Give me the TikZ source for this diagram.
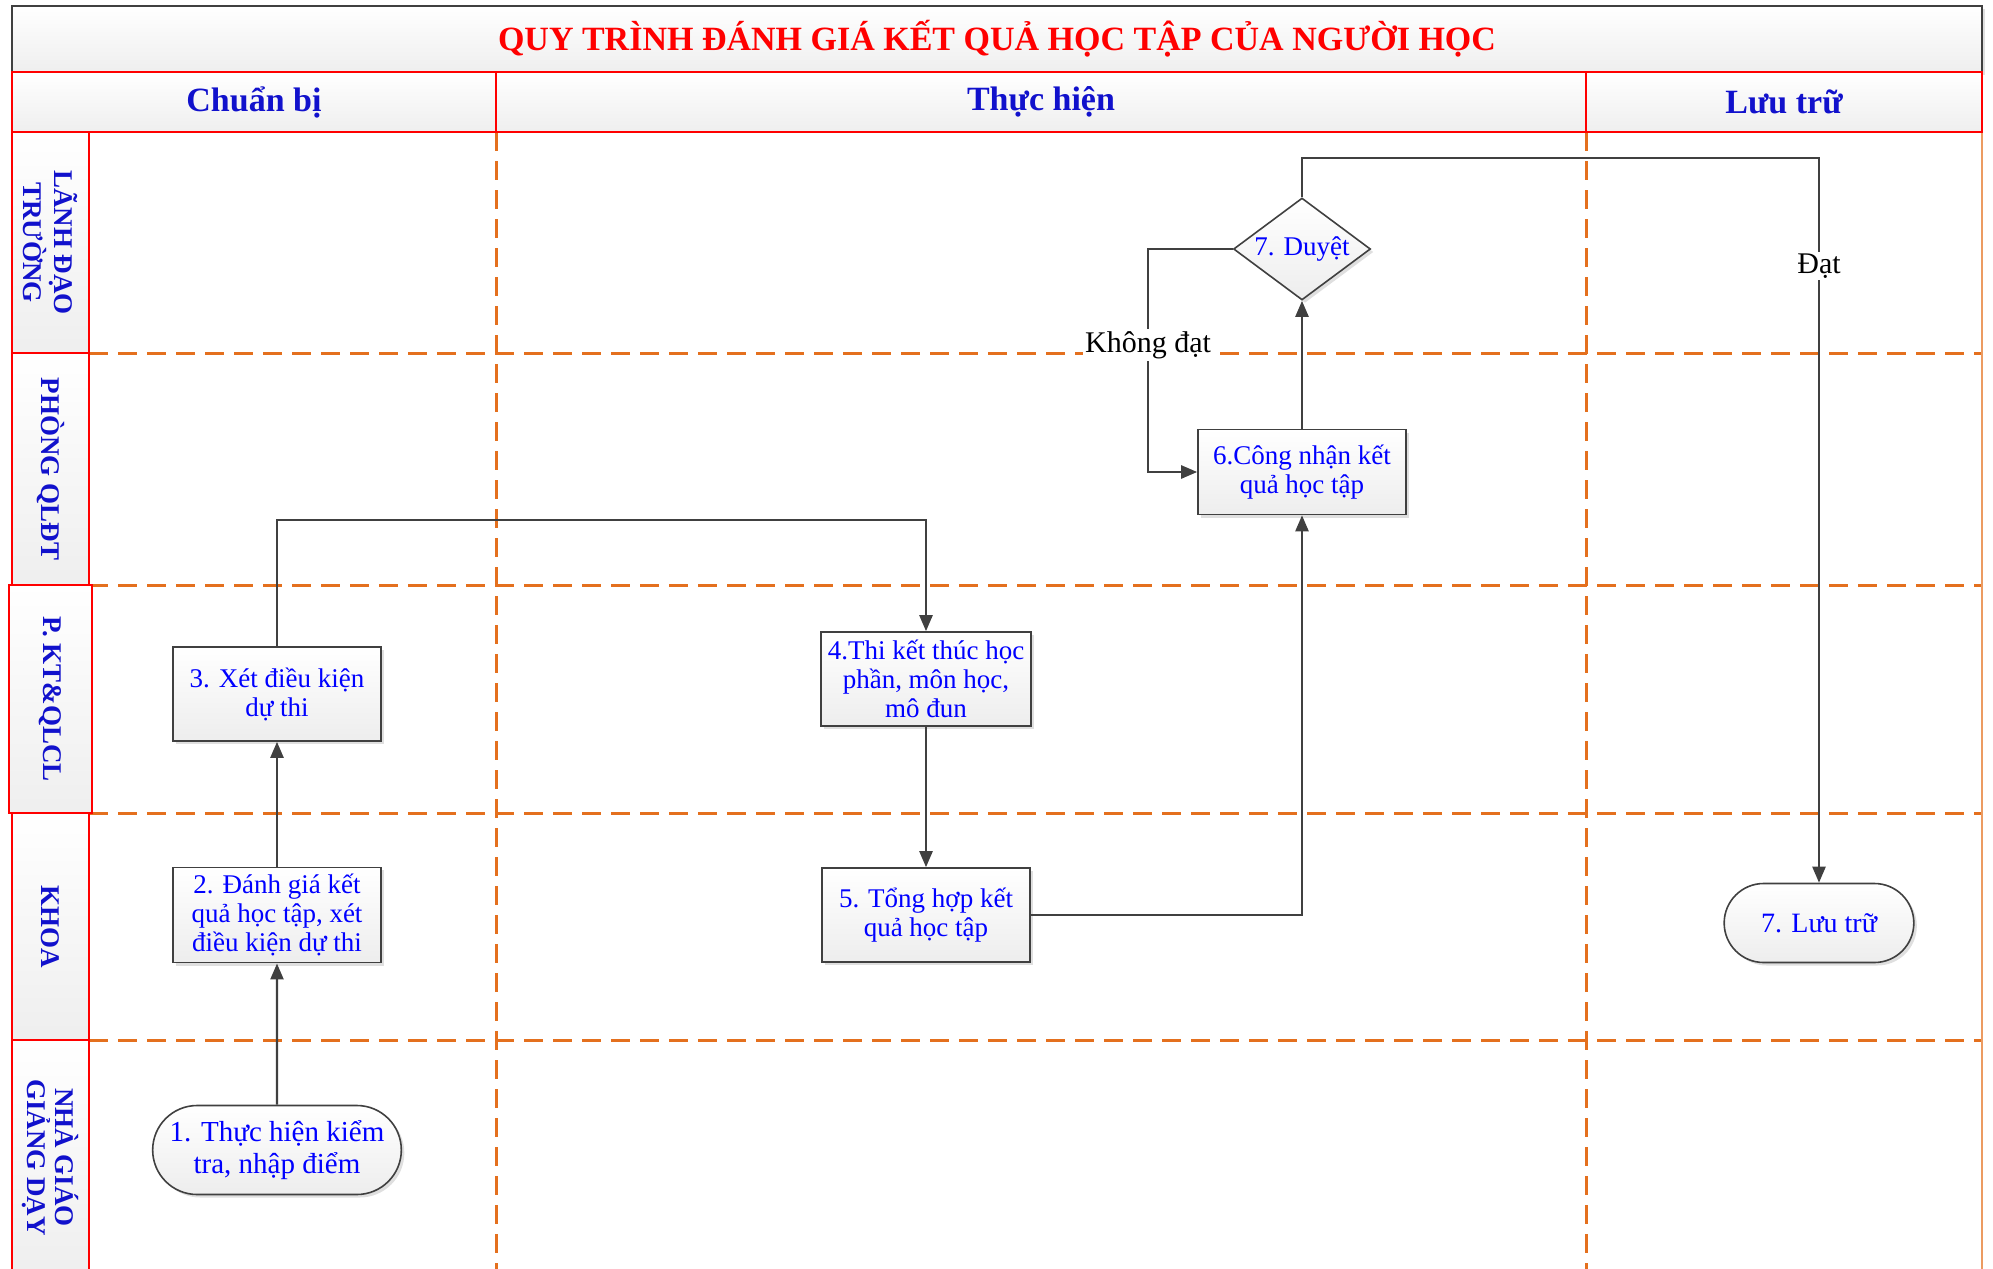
\documentclass[tikz,border=0pt]{standalone}
\usepackage{fontspec}
\setmainfont{Liberation Serif}
\usetikzlibrary{arrows.meta,shapes.geometric,shapes.misc,shadows}
\definecolor{lanered}{RGB}{255,0,0}
\definecolor{headblue}{RGB}{17,17,204}
\definecolor{stepblue}{RGB}{0,0,255}
\definecolor{dashorange}{RGB}{228,112,30}
\definecolor{edgegray}{RGB}{64,64,64}

\begin{document}
\begin{tikzpicture}[x=0.5pt, y=-0.5pt, every node/.style={font=\fontsize{13.5}{14.5}\selectfont}]
  \tikzstyle{cell}=[draw=lanered,line width=1.3pt,top color=white,bottom color=gray!13,outer sep=0pt,
    font=\fontsize{17}{19}\selectfont\bfseries,text=headblue,minimum height=30pt]
  \tikzstyle{lane}=[cell,rotate=-90,minimum height=38.5pt,align=center,font=\fontsize{13.5}{14}\selectfont\bfseries]
  \tikzstyle{stepbox}=[draw=edgegray,line width=0.8pt,top color=white,bottom color=gray!14,text=stepblue,
    align=center,minimum width=104pt,minimum height=47pt,drop shadow={shadow xshift=1.5pt,shadow yshift=-1.5pt,opacity=0.25}]
  \tikzstyle{term}=[stepbox,rounded rectangle,font=\fontsize{14}{15.5}\selectfont]
  \tikzstyle{check}=[stepbox,diamond,aspect=1.34,inner sep=0pt,minimum width=68.5pt,minimum height=51pt]
  \tikzstyle{link}=[edgegray,line width=1.2pt,-{Triangle[length=8pt,width=6.5pt]}]
  \tikzstyle{lanedash}=[dashorange,line width=1.5pt,dash pattern=on 9.5pt off 5pt]
  \tikzstyle{tag}=[fill=white,inner sep=1pt,font=\fontsize{15}{17}\selectfont]
  \useasboundingbox (0,0) rectangle (1993,1269);

  % swimlane grid
  \foreach \y in {353,585,813,1040} \draw[lanedash] (89,\y) -- (1982,\y);
  \foreach \x in {496,1586} \draw[lanedash] (\x,132) -- (\x,1269);
  \draw[dashorange!70,line width=1.3pt] (1982,132) -- (1982,1269);

  % title and phases
  \node[cell,draw=edgegray,text=red,minimum width=985pt,minimum height=33pt,
    drop shadow={shadow xshift=1.5pt,shadow yshift=-1.5pt,opacity=0.25}] (title) at (997,39)
    {QUY TRÌNH ĐÁNH GIÁ KẾT QUẢ HỌC TẬP CỦA NGƯỜI HỌC};
  \node[cell,minimum width=242pt] (prep) at (254,102) {Chuẩn bị};
  \node[cell,minimum width=545pt] (run) at (1041,102) {Thực hiện};
  \node[cell,minimum width=198pt] (keep) at (1784,102) {Lưu trữ};

  % lanes
  \node[lane,minimum width=110.5pt] (l1) at (50.5,242.5) {LÃNH ĐẠO\\TRƯỜNG};
  \node[lane,minimum width=116pt] (l2) at (50.5,469) {PHÒNG QLĐT};
  \node[lane,minimum width=114pt,minimum height=41.5pt] (l3) at (50.5,699) {P. KT\&QLCL};
  \node[lane,minimum width=113.5pt] (l4) at (50.5,926.5) {KHOA};
  \node[lane,minimum width=117.5pt] (l5) at (50.5,1157.5) {NHÀ GIÁO\\GIẢNG DẠY};

  % steps
  \node[term,minimum width=131pt,minimum height=44.5pt,font=\fontsize{14.5}{16}\selectfont] (n1) at (277,1150) {1. Thực hiện kiểm\\tra, nhập điểm};
  \node[stepbox] (n2) at (277,915) {2. Đánh giá kết\\quả học tập, xét\\điều kiện dự thi};
  \node[stepbox] (n3) at (277,694) {3. Xét điều kiện\\dự thi};
  \node[stepbox] (n4) at (926,679) {4.Thi kết thúc học\\phần, môn học,\\mô đun};
  \node[stepbox] (n5) at (926,915) {5. Tổng hợp kết\\quả học tập};
  \node[stepbox,minimum height=42.5pt] (n6) at (1302,472) {6.Công nhận kết\\quả học tập};
  \node[check] (n7) at (1302,249) {7. Duyệt};
  \node[term,minimum width=101.5pt,minimum height=39.5pt] (n8) at (1819,923) {7. Lưu trữ};

  % flow
  \coordinate (b34) at (277,520);
  \coordinate (nofail) at (1148,249);
  \coordinate (pass) at (1302,158);
  \draw[link] (n1) -- (n2);
  \draw[link] (n2) -- (n3);
  \draw[link] (n3.north) -- (b34) -| (n4.north);
  \draw[link] (n4) -- (n5);
  \draw[link] (n5.east) -| (n6.south);
  \draw[link] (n6) -- (n7);
  \draw[link] (n7.west) -- (nofail) |- (n6.west);
  \draw[link] (n7.north) -- (pass) -| (n8.north);
  \node[tag] (kd) at (1148,345) {Không đạt};
  \node[tag] (dat) at (1819,266) {Đạt};
\end{tikzpicture}
\end{document}
